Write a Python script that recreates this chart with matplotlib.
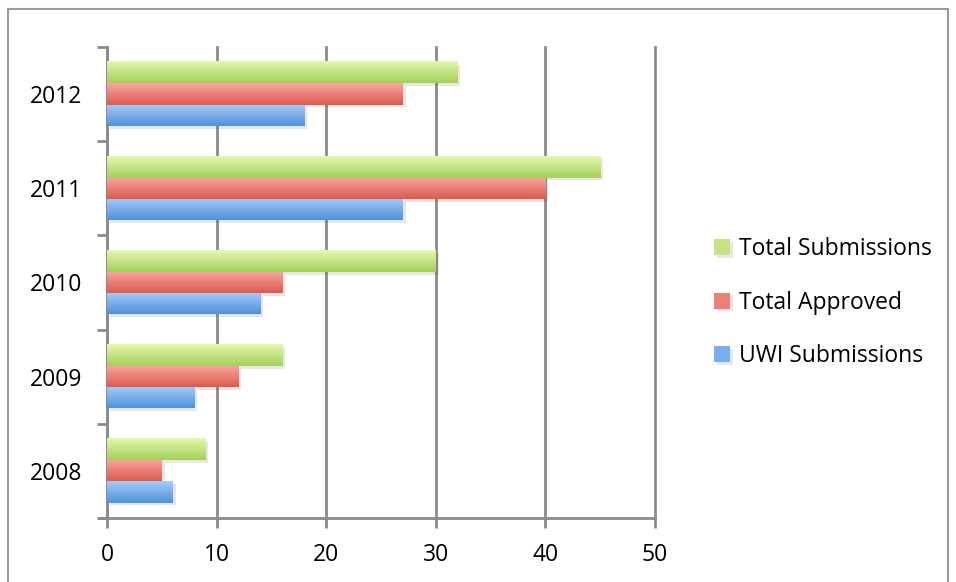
import numpy as np
import matplotlib.pyplot as plt
from matplotlib.colors import LinearSegmentedColormap
from matplotlib.patches import Rectangle
import matplotlib.patheffects as pe

plt.rcParams['font.family'] = ['Open Sans', 'DejaVu Sans']

# data
years = ['2008', '2009', '2010', '2011', '2012']
uwi_submissions = [6, 8, 14, 27, 18]
total_approved = [5, 12, 16, 40, 27]
total_submissions = [9, 16, 30, 45, 32]

series = [
    ('UWI Submissions', uwi_submissions, ('#4e93d9', '#a6cbfa'), '#79aeea'),
    ('Total Approved', total_approved, ('#dc5a4e', '#f9a7a1'), '#ec7f77'),
    ('Total Submissions', total_submissions, ('#a5cf5c', '#e3f8ac'), '#c6e484'),
]

fig = plt.figure(figsize=(9.56, 5.82), dpi=100)
ax = fig.add_axes([0.1119, 0.110, 0.5732, 0.8093])

# outer chart border
fig.patches.append(Rectangle((0.008, -0.02), 0.984, 1.005, transform=fig.transFigure,
                             fill=False, edgecolor='#9a9a9a', linewidth=1.5))

y = np.arange(len(years))
h = 0.225
offsets = [-h, 0, h]

for (name, vals, (dark, light), mid), off in zip(series, offsets):
    bars = ax.barh(y + off, vals, height=h, color=mid, label=name, zorder=3, linewidth=0,
                   path_effects=[pe.SimplePatchShadow(offset=(2, -2), alpha=0.12), pe.Normal()])
    cmap = LinearSegmentedColormap.from_list(name, [dark, light])
    grad = np.linspace(0, 1, 64).reshape(-1, 1)
    for b in bars:
        x0, y0 = b.get_x(), b.get_y()
        ax.imshow(grad, cmap=cmap, origin='lower', aspect='auto', zorder=4,
                  extent=(x0, x0 + b.get_width(), y0, y0 + b.get_height()))

ax.set_xlim(0, 50)
ax.set_ylim(-0.5, len(years) - 0.5)
ax.set_xticks(range(0, 51, 10))
ax.set_yticks(y)
ax.set_yticklabels(years)
ax.set_yticks(np.arange(-0.5, len(years), 1), minor=True)

ax.grid(axis='x', color='#8c8c8c', linewidth=2, zorder=0)
for gl in ax.get_xgridlines():
    gl.set_clip_on(False)
ax.set_axisbelow(True)

for s in ['top', 'right']:
    ax.spines[s].set_visible(False)
for s in ['left', 'bottom']:
    ax.spines[s].set_color('#8c8c8c')
    ax.spines[s].set_linewidth(2)
ax.spines['bottom'].set_bounds(-0.65, 50)

ax.tick_params(axis='y', which='major', length=0, pad=18, labelsize=16.5)
ax.tick_params(axis='y', which='minor', length=7, width=2, color='#8c8c8c')
ax.tick_params(axis='x', which='major', length=7, width=2, color='#8c8c8c', pad=11, labelsize=16.5)

handles, labels = ax.get_legend_handles_labels()
ax.legend(handles[::-1], labels[::-1], loc='center left', bbox_to_anchor=(0.725, 0.48),
          bbox_transform=fig.transFigure, frameon=False, fontsize=16.5,
          handlelength=0.7, handleheight=0.7, handletextpad=0.4, labelspacing=1.3)

fig.savefig('out.png', dpi=100)
